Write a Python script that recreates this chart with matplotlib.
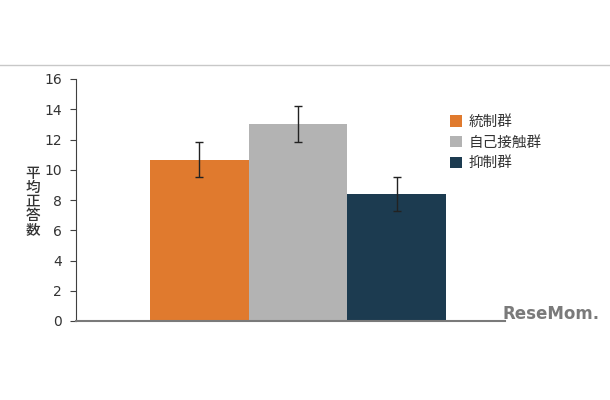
import matplotlib
matplotlib.use('Agg')
import matplotlib.pyplot as plt
from matplotlib.patches import Patch
from matplotlib.lines import Line2D

plt.rcParams['font.family'] = ['Noto Sans CJK JP', 'DejaVu Sans']

groups = ['統制群', '自己接触群', '抑制群']
means = [10.67, 13.01, 8.39]
errors = [1.16, 1.18, 1.15]
colors = ['#E07A2E', '#B3B3B3', '#1C3B50']
yticks = [0, 2, 4, 6, 8, 10, 12, 14, 16]

fig = plt.figure(figsize=(6.1, 4.0), dpi=100)
ax = fig.add_axes([76 / 610, 79 / 400, 429 / 610, 242 / 400])

x = range(len(groups))
ax.bar(x, means, width=1.0, color=colors, zorder=2)
ax.errorbar(x, means, yerr=errors, fmt='none', ecolor='#222222',
            elinewidth=1.0, capsize=3, capthick=1.0, zorder=3)

ax.set_xlim(-1.25, 3.1)
ax.set_ylim(0, 16)
ax.set_yticks(yticks)
ax.set_xticks([])
ax.tick_params(axis='y', direction='out', length=4, width=0.8,
               color='#404040', labelcolor='#333333', labelsize=10, pad=6)
for lbl in ax.get_yticklabels():
    lbl.set_family('DejaVu Sans')
for s in ['top', 'right']:
    ax.spines[s].set_visible(False)
ax.spines['left'].set_color('#404040')
ax.spines['left'].set_linewidth(0.8)
ax.spines['bottom'].set_color('#7a7a7a')
ax.spines['bottom'].set_linewidth(1.5)

fig.text(33 / 610, 1 - 202 / 400, '平\n均\n正\n答\n数', ha='center', va='center',
         fontsize=10.5, fontweight='medium', color='#333333', linespacing=1.0)

handles = [Patch(facecolor=c, edgecolor='none') for c in colors]
fig.legend(handles, groups, loc='upper left', bbox_to_anchor=(437 / 610, 1 - 102 / 400),
           frameon=False, fontsize=10.5, handlelength=0.8, handleheight=0.8,
           handletextpad=0.5, labelspacing=0.45, labelcolor='#333333')

# top rule line
fig.add_artist(Line2D([0, 1], [1 - 65 / 400] * 2, color='#c8c8c8', linewidth=1.0))

# watermark
fig.text(551 / 610, 1 - 314 / 400, 'ReseMom.', ha='center', va='center',
         fontsize=12, fontweight='bold', color='#7a7a7a', family='DejaVu Sans')

fig.savefig('out.png', dpi=100)
